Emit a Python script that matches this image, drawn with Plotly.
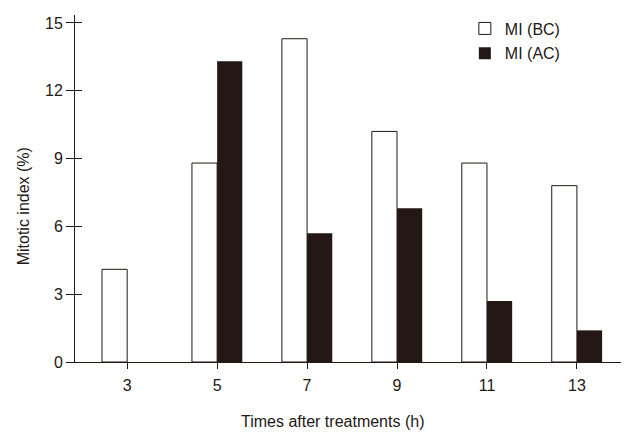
import plotly.graph_objects as go

# Données
times = [3, 5, 7, 9, 11, 13]
mi_bc = [4.1, 8.8, 14.3, 10.2, 8.8, 7.8]
mi_ac = [0, 13.3, 5.7, 6.8, 2.7, 1.4]
y_ticks = [0, 3, 6, 9, 12, 15]

INK = "#231815"
FONT = dict(family="Liberation Sans, Arial, sans-serif", size=16, color=INK)
BAR_W = 0.56

fig = go.Figure()
fig.add_trace(go.Bar(
    x=times, y=mi_bc, name="MI (BC)",
    width=BAR_W, offset=-BAR_W,
    marker=dict(color="white", line=dict(color=INK, width=1)),
    legendgroup="bc",
))
fig.add_trace(go.Bar(
    x=times, y=mi_ac, name="MI (AC)",
    width=BAR_W, offset=0,
    marker=dict(color=INK, line=dict(color=INK, width=0)),
    legendgroup="ac",
))
# trace invisible pour afficher yaxis2 (graduations qui traversent l'axe)
fig.add_trace(go.Scatter(x=[times[0]], y=[0], yaxis="y2", mode="markers",
                         marker=dict(opacity=0), showlegend=False, hoverinfo="skip"))

# la page HTML ajoute une marge de 8 px (body), compensée ici
fig.update_layout(
    width=632, height=440,
    margin=dict(l=67, r=19, t=4, b=86),
    plot_bgcolor="white", paper_bgcolor="white",
    font=FONT,
    barmode="overlay",
    showlegend=True,
    legend=dict(
        x=0.714, y=1.01, xanchor="left", yanchor="top",
        font=dict(size=16, color=INK),
        tracegroupgap=1, bgcolor="rgba(0,0,0,0)",
    ),
    xaxis=dict(
        range=[1.84, 13.98], automargin=False,
        tickvals=times, ticktext=[str(t) for t in times],
        ticks="outside", ticklen=6, tickcolor=INK, tickwidth=1,
        ticklabelstandoff=3,
        showline=True, linecolor=INK, linewidth=1,
        showgrid=False, zeroline=False,
    ),
    yaxis=dict(
        range=[0, 15.35], automargin=False,
        tickvals=y_ticks,
        ticks="outside", ticklen=8, tickcolor=INK, tickwidth=1,
        showline=True, linecolor=INK, linewidth=1,
        showgrid=False, zeroline=False,
    ),
    yaxis2=dict(
        range=[0, 15.35], overlaying="y", side="left", automargin=False,
        tickvals=y_ticks, showticklabels=False,
        ticks="inside", ticklen=7, tickcolor=INK, tickwidth=1,
        showline=False, showgrid=False, zeroline=False,
    ),
    annotations=[
        dict(text="Times after treatments (h)", xref="paper", yref="paper",
             x=0.4725, y=-0.171, xanchor="center", yanchor="middle",
             showarrow=False, font=FONT),
        dict(text="Mitotic index (%)", xref="paper", yref="paper",
             x=-0.095, y=0.449, xanchor="center", yanchor="middle",
             textangle=-90, showarrow=False, font=FONT),
    ],
)

fig.write_html("out.html")
